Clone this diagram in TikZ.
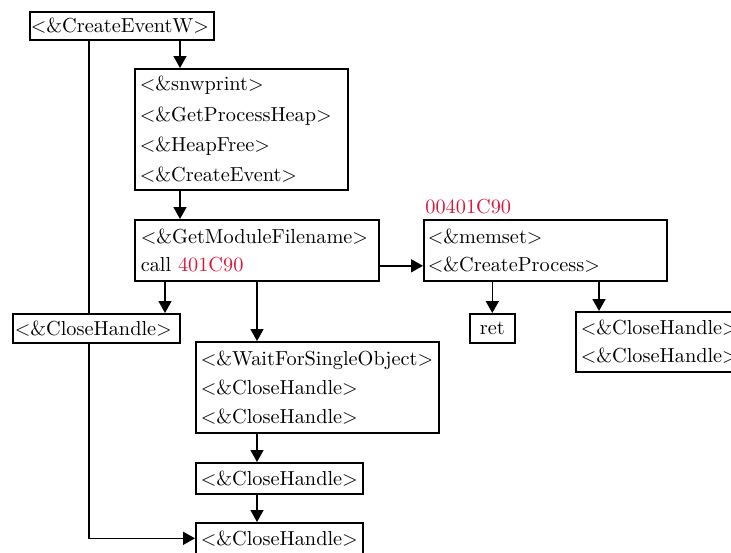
\documentclass[tikz,border=0pt]{standalone}
\usepackage{fontspec}
\usetikzlibrary{arrows.meta}
\definecolor{addr}{RGB}{220,20,60}
\newcommand{\fn}[1]{$<$\&#1$>$}
\begin{document}
\relpenalty=10000
\binoppenalty=10000
\begin{tikzpicture}[x=0.5pt,y=-0.5pt,
  box/.style={draw, line width=0.8pt, rectangle, anchor=north west, align=left,
    inner ysep=0pt, font=\fontsize{10.15}{14}\selectfont},
  conn/.style={line width=0.8pt},
  arr/.style={conn, -{Triangle[length=6pt,width=6.5pt]}},
  addrlabel/.style={text=addr, inner sep=0pt, font=\fontsize{10.15}{14}\selectfont}]
\useasboundingbox (0,0) rectangle (731,552);

% blocks
\node[box, minimum width=92pt, minimum height=14pt, inner xsep=0.5pt, text width=91pt]
  (a) at (29,11) {\fn{CreateEventW}};
\node[box, minimum width=106.5pt, minimum height=60.5pt, inner xsep=2.5pt, text width=101.5pt,
  font=\fontsize{10.15}{15.15}\selectfont]
  (b) at (134,68) {\fn{snwprint}\\\fn{GetProcessHeap}\\\fn{HeapFree}\\\fn{CreateEvent}};
\node[box, minimum width=122pt, minimum height=30.5pt, inner xsep=3pt, text width=116pt]
  (c) at (134,219) {\fn{GetModuleFilename}\\call \textcolor{addr}{401C90}};
\node[box, minimum width=121.5pt, minimum height=30.5pt, inner xsep=2pt, text width=117.5pt]
  (d) at (423,219) {\fn{memset}\\\fn{CreateProcess}};
\node[addrlabel, anchor=west] (dlabel) at (425,207) {00401C90};
\node[box, minimum width=83.5pt, minimum height=14.5pt, inner xsep=1pt, text width=81.5pt]
  (e) at (12,313) {\fn{CloseHandle}};
\node[box, minimum width=22.5pt, minimum height=14.5pt, inner xsep=0pt, text width=22.5pt, align=center]
  (f) at (469,313) {ret};
\node[box, minimum width=86pt, minimum height=30pt, inner xsep=2.5pt, text width=81pt]
  (g) at (575,311) {\fn{CloseHandle}\\\fn{CloseHandle}};
\node[box, minimum width=121.5pt, minimum height=45.5pt, inner xsep=2.5pt, text width=116.5pt,
  font=\fontsize{10.15}{14.5}\selectfont]
  (h) at (195,341) {\fn{WaitForSingleObject}\\\fn{CloseHandle}\\\fn{CloseHandle}};
\node[box, minimum width=83.5pt, minimum height=15.5pt, inner xsep=2.5pt, text width=78.5pt]
  (i) at (195,462) {\fn{CloseHandle}};
\node[box, minimum width=83.5pt, minimum height=15.5pt, inner xsep=2.5pt, text width=78.5pt]
  (j) at (195,522) {\fn{CloseHandle}};

% connector positions along the box edges
\coordinate (ab) at ([xshift=23pt]b.north west);
\coordinate (ae) at ([xshift=38.5pt]e.north west);
\coordinate (bc) at ([xshift=23pt]c.north west);
\coordinate (ce) at ([xshift=15.5pt]c.south west);
\coordinate (ch) at ([xshift=31pt]h.north west);
\coordinate (cd) at ([yshift=-7.75pt]d.west);
\coordinate (dg) at ([xshift=12pt]g.north west);
\coordinate (hi) at ([xshift=31pt]i.north west);
\coordinate (ij) at ([xshift=31pt]j.north west);

% connectors
\draw[arr] (ab |- a.south) -- (ab);
\draw[conn] (ae |- a.south) -- (ae);
\draw[arr] (bc |- b.south) -- (bc);
\draw[arr] (ce) -- (ce |- e.north);
\draw[arr] (ch |- c.south) -- (ch);
\draw[arr] (cd -| c.east) -- (cd);
\draw[arr] (f.north |- d.south) -- (f.north);
\draw[arr] (dg |- d.south) -- (dg);
\draw[arr] (hi |- h.south) -- (hi);
\draw[arr] (ij |- i.south) -- (ij);
\draw[arr] (ae |- e.south) |- (j.west);
\end{tikzpicture}
\end{document}
